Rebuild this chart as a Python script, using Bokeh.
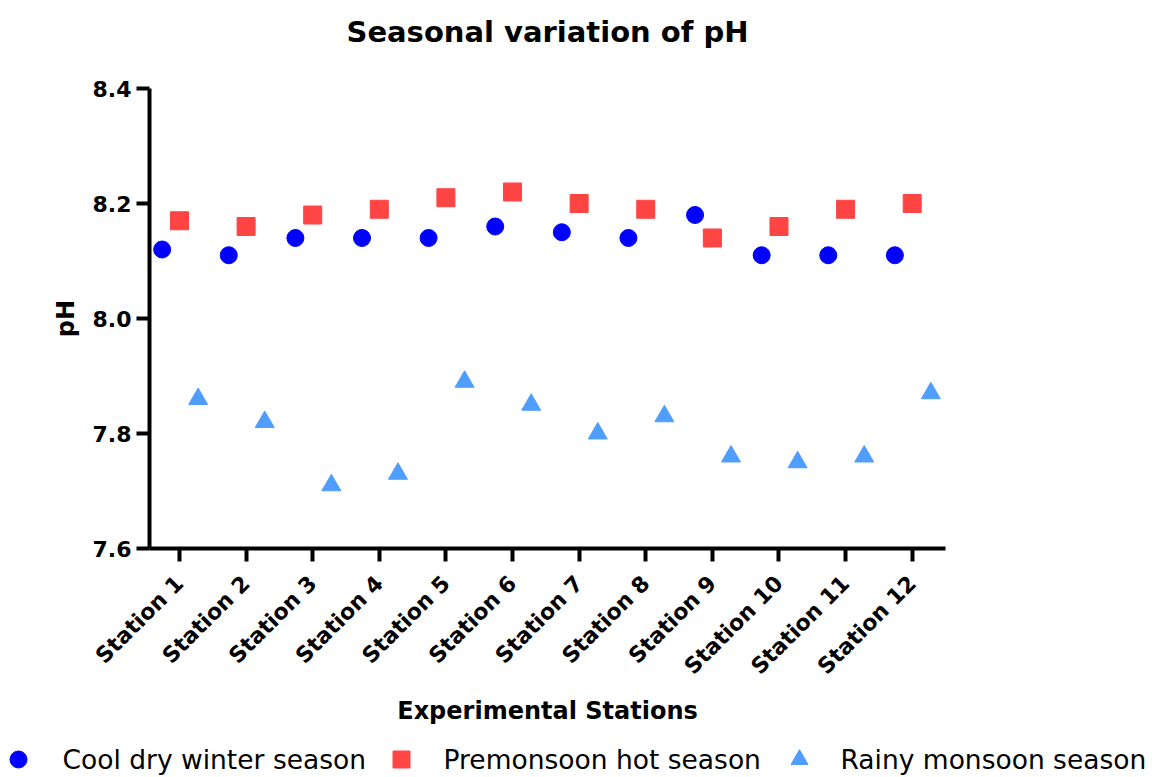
import math
from bokeh.plotting import figure
from bokeh.layouts import column
from bokeh.models import (ColumnDataSource, FixedTicker, Range1d,
                          PrintfTickFormatter, LinearAxis)
from bokeh.core.properties import value
from bokeh.transform import dodge
from bokeh.embed import file_html
from bokeh.resources import INLINE

# ---------------- data ----------------
stations = ["Station 1", "Station 2", "Station 3", "Station 4", "Station 5", "Station 6",
            "Station 7", "Station 8", "Station 9", "Station 10", "Station 11", "Station 12"]
winter = [8.12, 8.11, 8.14, 8.14, 8.14, 8.16, 8.15, 8.14, 8.18, 8.11, 8.11, 8.11]
premonsoon = [8.17, 8.16, 8.18, 8.19, 8.21, 8.22, 8.20, 8.19, 8.14, 8.16, 8.19, 8.20]
monsoon = [7.86, 7.82, 7.71, 7.73, 7.89, 7.85, 7.80, 7.83, 7.76, 7.75, 7.76, 7.87]
series_names = ["Cool dry winter season", "Premonsoon hot season", "Rainy monsoon season"]
y_ticks = [7.6, 7.8, 8.0, 8.2, 8.4]
chart_title = "Seasonal variation of pH"

# ---------------- style ----------------
FONT = "DejaVu Sans"
markers = ["circle", "square", "triangle"]
colors = ["#0000ff", "#ff4444", "#4f9eff"]
sizes = [17, 18, 19]
offsets = [-0.26, 0.0, 0.28]

pos = list(range(1, len(stations) + 1))
src = ColumnDataSource(dict(pos=pos, station=stations, winter=winter,
                            premonsoon=premonsoon, monsoon=monsoon))

main = figure(frame_width=796, frame_height=460, title=None,
              x_range=Range1d(0.55, 12.5), y_range=Range1d(7.6, 8.4),
              output_backend="svg", toolbar_location=None,
              min_border_left=149, min_border_right=212,
              min_border_top=88, min_border_bottom=189)
main.frame_align = False

for col, mk, c, s, off in zip(["winter", "premonsoon", "monsoon"], markers, colors, sizes, offsets):
    main.scatter(x=dodge("pos", off), y=col, source=src, marker=mk, size=s, color=c)

xa = main.below[0]
ya = main.left[0]
for ax in (xa, ya):
    ax.axis_line_width = 4
    ax.axis_line_color = "black"
    ax.major_tick_line_width = 4
    ax.major_tick_line_color = "black"
    ax.major_tick_out = 13
    ax.major_tick_in = 0
    ax.minor_tick_out = 0
    ax.minor_tick_in = 0
    ax.major_label_text_font = FONT
    ax.major_label_text_font_style = "bold"
    ax.major_label_text_color = "black"
    ax.axis_label_text_font = FONT
    ax.axis_label_text_font_style = "bold"
    ax.axis_label_text_font_size = "24px"
    ax.axis_label_text_color = "black"

xa.ticker = FixedTicker(ticks=pos)
xa.major_label_overrides = {i: s for i, s in zip(pos, stations)}
xa.major_label_orientation = math.pi / 4
xa.major_label_text_font_size = "22px"
xa.major_label_standoff = 18
xa.axis_label = "Experimental Stations"
xa.axis_label_standoff = 6

ya.ticker = FixedTicker(ticks=y_ticks)
ya.formatter = PrintfTickFormatter(format="%.1f")
ya.major_label_text_font_size = "22px"
ya.axis_label = "pH"
ya.axis_label_standoff = 10

# title drawn as the label of a bare axis above the frame
title_axis = LinearAxis(ticker=FixedTicker(ticks=[]), axis_label=chart_title,
                        axis_line_color=None, major_tick_line_color=None,
                        minor_tick_line_color=None, major_tick_out=0, major_tick_in=0,
                        minor_tick_out=0, minor_tick_in=0,
                        major_label_text_font_size="0px",
                        axis_label_text_font=FONT, axis_label_text_font_size="29px",
                        axis_label_text_font_style="bold", axis_label_text_color="black",
                        axis_label_standoff=40)
main.add_layout(title_axis, "above")

main.grid.visible = False
main.outline_line_color = None

# ---------------- legend strip (pixel coordinates) ----------------
LEG_W, LEG_H = 1157, 40
key_x = [18, 401, 799]
label_x = [62, 443, 840]
row_y = 18

leg = figure(frame_width=LEG_W, frame_height=LEG_H, title=None,
             x_range=Range1d(0, LEG_W), y_range=Range1d(0, LEG_H),
             output_backend="svg", toolbar_location=None,
             x_axis_location=None, y_axis_location=None,
             min_border=0, min_border_left=0, min_border_right=0,
             min_border_top=0, min_border_bottom=0)
leg.frame_align = False
leg.grid.visible = False
leg.outline_line_color = None
for name, mk, c, kx, lx in zip(series_names, markers, colors, key_x, label_x):
    leg.scatter(x=[kx], y=[row_y], marker=mk, size=17, color=c)
    leg.text(x=[lx], y=[row_y], text=[name], text_font=value(FONT),
             text_font_size="26.5px", text_baseline="middle", text_align="left",
             text_color="black")

p = column(main, leg, spacing=0)

open("out.html", "w").write(file_html(p, INLINE))
